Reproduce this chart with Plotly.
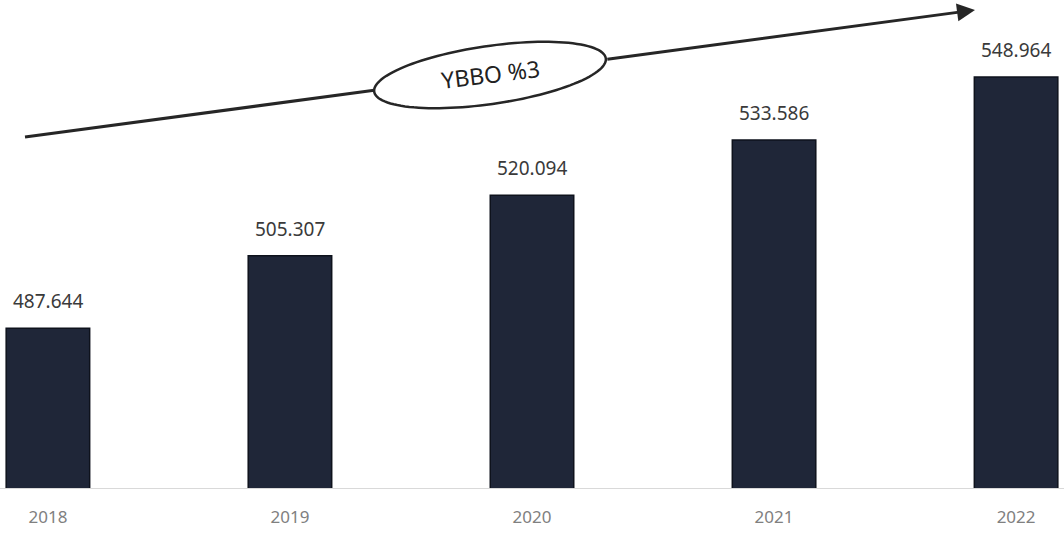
import numpy as np
import plotly.graph_objects as go

years = ["2018", "2019", "2020", "2021", "2022"]
values = [487.644, 505.307, 520.094, 533.586, 548.964]
labels = ["487.644", "505.307", "520.094", "533.586", "548.964"]
cagr_text = "YBBO %3"

W, H = 1064, 533
PLOT_H = 488  # plot area height in px (margin bottom = 45)

fig = go.Figure()
fig.add_trace(go.Bar(
    x=years, y=values,
    width=0.345,
    marker=dict(color="#1f2638", line=dict(color="#0e121c", width=1.5)),
    hoverinfo="skip",
))

# value labels above bars
for i, (v, lab) in enumerate(zip(values, labels)):
    fig.add_annotation(x=i, y=v, text=lab, showarrow=False,
                       xanchor="center", yanchor="bottom", yshift=12,
                       font=dict(family="Noto Sans", size=19, color="#3a3a3a"))


def px(xp):
    return xp / W


def py(yp):
    return 1 - yp / PLOT_H


# rotated ellipse
cx, cy, a, b = 490, 75, 117, 29
deg = -8.2
ang = np.deg2rad(deg)

# trend arrow: start, end (pixels)
x0p, y0p, x1p, y1p = 25, 137, 975, 10
slope = (y1p - y0p) / (x1p - x0p)
lx, ly = cx - a * np.cos(ang), cy - a * np.sin(ang)
rx, ry = cx + a * np.cos(ang), cy + a * np.sin(ang)

fig.add_shape(type="line", xref="paper", yref="paper",
              x0=px(x0p), y0=py(y0p), x1=px(lx), y1=py(y0p + slope * (lx - x0p)),
              line=dict(color="#262626", width=3))
fig.add_annotation(x=px(x1p), y=py(y1p), xref="paper", yref="paper",
                   ax=rx - x1p, ay=(y0p + slope * (rx - x0p)) - y1p,
                   axref="pixel", ayref="pixel",
                   showarrow=True, arrowhead=2, arrowsize=1.2, arrowwidth=3,
                   arrowcolor="#262626", text="")

t = np.linspace(0, 2 * np.pi, 120)
ex = cx + a * np.cos(t) * np.cos(ang) - b * np.sin(t) * np.sin(ang)
ey = cy + a * np.cos(t) * np.sin(ang) + b * np.sin(t) * np.cos(ang)
path = "M " + " L ".join(f"{px(xx):.5f},{py(yy):.5f}" for xx, yy in zip(ex, ey)) + " Z"
fig.add_shape(type="path", path=path, xref="paper", yref="paper",
              line=dict(color="#262626", width=2.5), fillcolor="white", layer="above")

fig.add_annotation(x=px(490), y=py(74), xref="paper", yref="paper",
                   xanchor="center", yanchor="middle",
                   text=cagr_text, showarrow=False, textangle=-7,
                   font=dict(family="Noto Sans", size=23, color="#222222"))

fig.update_layout(
    width=W, height=H,
    margin=dict(l=0, r=0, t=0, b=H - PLOT_H),
    paper_bgcolor="white", plot_bgcolor="white",
    showlegend=False,
    xaxis=dict(type="category", range=[-0.198, 4.198], showgrid=False, zeroline=False,
               showline=True, linecolor="#d9d9d9", linewidth=1,
               ticks="", ticklabelstandoff=14,
               tickfont=dict(family="Noto Sans", size=17, color="#808080")),
    yaxis=dict(range=[448.6, 567.8], visible=False, showgrid=False),
)

fig.write_html("out.html", config={"displayModeBar": False},
               post_script="document.body.style.margin='0';")
